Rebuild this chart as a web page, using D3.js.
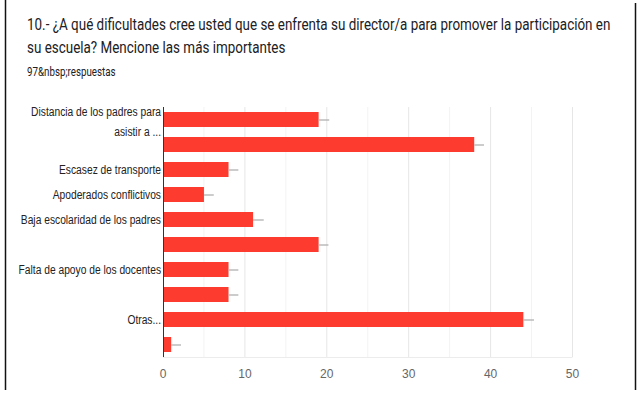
<!DOCTYPE html>
<html>
<head>
<meta charset="utf-8">
<script src="https://cdn.jsdelivr.net/npm/d3@7"></script>
<style>
  body { margin: 0; background: #fff; }
  svg { display: block; }
</style>
</head>
<body>
<svg width="643" height="395"></svg>
<script>
// data
const titleLines = [
    '10.- ¿A qué dificultades cree usted que se enfrenta su director/a para promover la participación en',
    'su escuela? Mencione las más importantes'
];
const subtitle = '97&nbsp;respuestas';
const rowLabels = [
    ['Distancia de los padres para', 'asistir a ...'],
    [],
    ['Escasez de transporte'],
    ['Apoderados conflictivos'],
    ['Baja escolaridad de los padres'],
    [],
    ['Falta de apoyo de los docentes'],
    [],
    ['Otras...'],
    []
];
const counts = [19, 38, 8, 5, 11, 19, 8, 8, 44, 1];
const whiskers = [1.3, 1.2, 1.2, 1.2, 1.3, 1.2, 1.2, 1.2, 1.3, 1.2];
const xTicks = [0, 10, 20, 30, 40, 50];

(function (d3) {
    'use strict';
    const svg = d3.select('svg');

    // frame lines left and right
    svg.append('line').attr('x1', 5.5).attr('x2', 5.5).attr('y1', 0).attr('y2', 390)
        .attr('stroke', '#111').attr('stroke-width', 1.5);
    svg.append('line').attr('x1', 635.5).attr('x2', 635.5).attr('y1', 3).attr('y2', 390)
        .attr('stroke', '#111').attr('stroke-width', 1.5);

    // title, squeezed horizontally like the screenshot
    const titleG = svg.append('g');
    const t1 = titleG.append('text').attr('x', 0).attr('y', 30)
        .style('font-family', 'Roboto').style('font-size', '16.5px').attr('fill', '#202124')
        .text(titleLines[0]);
    const ratio = 584 / t1.node().getComputedTextLength();
    titleG.append('text').attr('x', 0).attr('y', 53)
        .style('font-family', 'Roboto').style('font-size', '16.5px').attr('fill', '#202124')
        .text(titleLines[1]);
    titleG.append('text').attr('x', 0).attr('y', 76)
        .style('font-family', 'Roboto').style('font-size', '12px').attr('fill', '#202124')
        .text(subtitle);
    titleG.attr('transform', `translate(27,0) scale(${ratio},1)`);

    const margin = { left: 163, right: 70.5, top: 107, bottom: 38 };
    const width = 643 - margin.left - margin.right;
    const height = 395 - margin.top - margin.bottom;

    const x = d3.scaleLinear().domain([0, 50]).range([0, width]);
    const y = d3.scaleBand().domain(d3.range(counts.length)).range([0, height]).paddingInner(0.4).paddingOuter(0.2);

    const g = svg.append('g').attr('transform', `translate(${margin.left},${margin.top})`);

    // minor and major gridlines
    g.selectAll('line.minor').data(d3.range(5, 50, 10))
        .enter().append('line').attr('class', 'minor')
        .attr('x1', d => x(d)).attr('x2', d => x(d)).attr('y1', 0).attr('y2', height)
        .attr('stroke', '#f3f3f3');
    g.selectAll('line.major').data(xTicks.slice(1))
        .enter().append('line').attr('class', 'major')
        .attr('x1', d => x(d)).attr('x2', d => x(d)).attr('y1', 0).attr('y2', height)
        .attr('stroke', '#e6e6e6');
    g.append('line').attr('x1', 0).attr('x2', width).attr('y1', height + 0.5).attr('y2', height + 0.5)
        .attr('stroke', '#ececec');

    // bars
    g.selectAll('rect.bar').data(counts)
        .enter().append('rect').attr('class', 'bar')
        .attr('x', 0)
        .attr('y', (d, i) => y(i))
        .attr('width', d => x(d))
        .attr('height', y.bandwidth())
        .attr('fill', '#fe3b2f');

    // whiskers
    g.selectAll('line.whisker').data(counts)
        .enter().append('line').attr('class', 'whisker')
        .attr('x1', d => x(d))
        .attr('x2', (d, i) => x(d + whiskers[i]))
        .attr('y1', (d, i) => y(i) + y.bandwidth() / 2 + 0.5)
        .attr('y2', (d, i) => y(i) + y.bandwidth() / 2 + 0.5)
        .attr('stroke', '#aaa').attr('stroke-width', 1.2);

    // zero baseline
    g.append('line').attr('x1', 0.5).attr('x2', 0.5).attr('y1', 0).attr('y2', height)
        .attr('stroke', '#333');

    // row labels
    rowLabels.forEach((lines, i) => {
        const cy = y(i) + y.bandwidth() / 2;
        const off = lines.length > 1 ? 2 - (lines.length - 1) * 10 : 0;
        lines.forEach((s, j) => {
            const t = g.append('text')
                .attr('x', -2)
                .attr('y', cy + off + j * 20)
                .attr('dy', '0.35em')
                .attr('text-anchor', 'end')
                .style('font-family', 'Liberation Sans, Arial')
                .style('font-size', '12.5px')
                .attr('fill', '#222')
                .text(s);
            t.attr('textLength', t.node().getComputedTextLength() * 0.82).attr('lengthAdjust', 'spacingAndGlyphs');
        });
    });

    // x tick labels
    g.selectAll('text.tick').data(xTicks)
        .enter().append('text').attr('class', 'tick')
        .attr('x', d => x(d))
        .attr('y', height + 17)
        .attr('dy', '0.35em')
        .attr('text-anchor', 'middle')
        .style('font-family', 'Liberation Sans, Arial')
        .style('font-size', '12px')
        .attr('fill', '#666')
        .text(d => d);
}(d3));
</script>
</body>
</html>
